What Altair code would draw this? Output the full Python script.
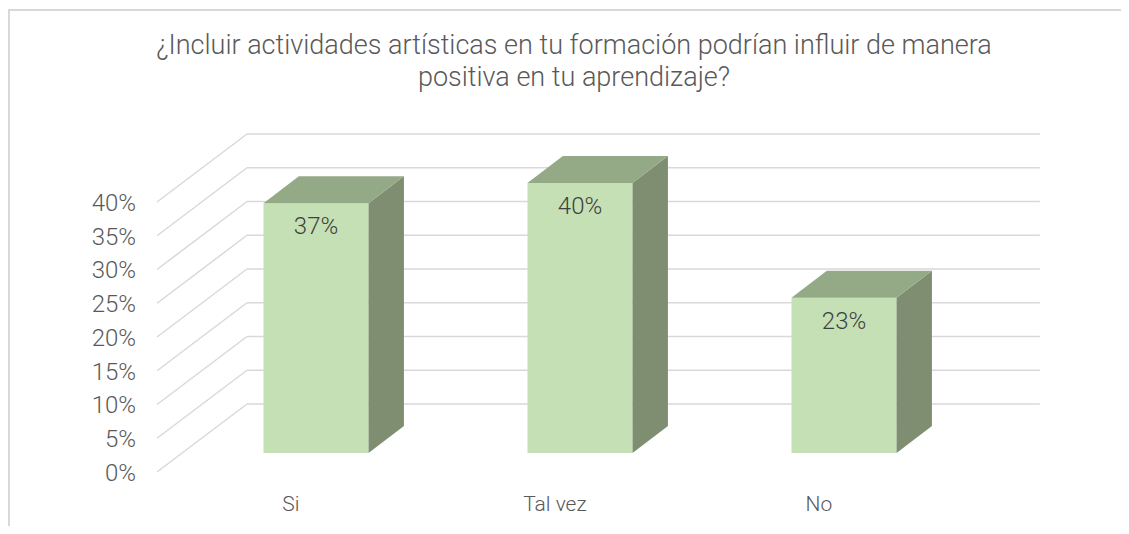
import altair as alt
import pandas as pd

# ---- data ----
categories = ["Si", "Tal vez", "No"]
values = [37, 40, 23]
tick_values = [0, 5, 10, 15, 20, 25, 30, 35, 40]
title_lines = [
    "¿Incluir actividades artísticas en tu formación podrían influir de manera",
    "positiva en tu aprendizaje?",
]

# ---- layout (pseudo-3D geometry) ----
W, H = 1113, 518
X_DOMAIN = [-1.1667, 3.0492]
Y_DOMAIN = [-10.81, 65.93]
HALF = 0.199          # half bar width (category units)
DX, DY = 0.134, 4.0   # bar depth offset
FRONT_LEFT, BACK_LEFT, BACK_RIGHT = -0.6023, -0.2614, 2.742
FRONT_OFF, BACK_OFF = -2.81, 7.26
LABEL_SHIFT = -0.095

FRONT_C, TOP_C, SIDE_C = "#C5E0B4", "#94A986", "#7F8E70"
GRID_C, TEXT_C = "#D9D9D9", "#595959"
FONT = "Roboto"

xs = alt.Scale(domain=X_DOMAIN, nice=False, zero=False)
ys = alt.Scale(domain=Y_DOMAIN, nice=False, zero=False)


def X(f):
    return alt.X(f, type="quantitative", scale=xs, axis=None)


def Y(f):
    return alt.Y(f, type="quantitative", scale=ys, axis=None, stack=None)


# back wall gridlines and floor diagonals
grid = pd.DataFrame({
    "t": tick_values,
    "xb": [BACK_LEFT] * len(tick_values),
    "xr": [BACK_RIGHT] * len(tick_values),
    "xf": [FRONT_LEFT] * len(tick_values),
    "yb": [t + BACK_OFF for t in tick_values],
    "yf": [t + FRONT_OFF for t in tick_values],
    "lab": [f"{t}%" for t in tick_values],
})

back_lines = alt.Chart(grid).mark_rule(color=GRID_C, strokeWidth=1.5).encode(
    x=X("xb"), x2="xr", y=Y("yb"))
diag_lines = alt.Chart(grid).mark_rule(color=GRID_C, strokeWidth=1.5).encode(
    x=X("xf"), x2="xb", y=Y("yf"), y2="yb")
y_labels = alt.Chart(grid).mark_text(
    align="right", baseline="middle", dx=-21, dy=2, font=FONT, fontSize=24,
    fontWeight=300, color=TEXT_C
).encode(x=X("xf"), y=Y("yf"), text="lab:N")

# bars
idx = list(range(len(categories)))
bars = pd.DataFrame({
    "cat": categories,
    "v": values,
    "x0": [i - HALF for i in idx],
    "x1": [i + HALF for i in idx],
    "xc": idx,
    "xl": [i + LABEL_SHIFT for i in idx],
    "zero": [0] * len(idx),
    "front": [FRONT_OFF] * len(idx),
    "lab": [f"{v}%" for v in values],
})

front = alt.Chart(bars).mark_rect(color=FRONT_C).encode(
    x=X("x0"), x2="x1", y=Y("zero"), y2="v")

side_rows, top_rows = [], []
for i, (c, v) in enumerate(zip(categories, values)):
    x0, x1 = i - HALF, i + HALF
    side_rows.append({"cat": c, "px": x1, "lo": 0, "hi": v})
    side_rows.append({"cat": c, "px": x1 + DX, "lo": DY, "hi": v + DY})
    top_rows.append({"cat": c, "px": x0, "lo": v, "hi": v})
    top_rows.append({"cat": c, "px": x0 + DX, "lo": v, "hi": v + DY})
    top_rows.append({"cat": c, "px": x1, "lo": v, "hi": v + DY})
    top_rows.append({"cat": c, "px": x1 + DX, "lo": v + DY, "hi": v + DY})

side = alt.Chart(pd.DataFrame(side_rows)).mark_area(color=SIDE_C, opacity=1).encode(
    x=X("px"), y=Y("hi"), y2="lo", detail="cat:N")

top = alt.Chart(pd.DataFrame(top_rows)).mark_area(color=TOP_C, opacity=1).encode(
    x=X("px"), y=Y("hi"), y2="lo", detail="cat:N")

val_labels = alt.Chart(bars).mark_text(
    baseline="middle", dy=24, font=FONT, fontSize=24, fontWeight=300, color="#404040"
).encode(x=X("xc"), y=Y("v"), text="lab:N")

cat_labels = alt.Chart(bars).mark_text(
    baseline="middle", dy=33, font=FONT, fontSize=21, fontWeight=300, color=TEXT_C
).encode(x=X("xl"), y=Y("front"), text="cat:N")

one = pd.DataFrame({"a": [0]})
title = alt.Chart(one).mark_text(
    text=title_lines, font=FONT, fontSize=27, fontWeight=300, color=TEXT_C,
    align="center", baseline="alphabetic", lineHeight=32
).encode(x=alt.value(566), y=alt.value(46))

border_top = alt.Chart(one).mark_rule(color=GRID_C, strokeWidth=2).encode(
    x=alt.value(0), x2=alt.value(W), y=alt.value(2))
border_left = alt.Chart(one).mark_rule(color=GRID_C, strokeWidth=2).encode(
    x=alt.value(1), y=alt.value(2), y2=alt.value(H))

chart = alt.layer(
    border_top, border_left, back_lines, diag_lines, y_labels,
    front, side, top, val_labels, cat_labels, title
).properties(
    width=W, height=H, autosize=alt.AutoSizeParams(type="none"),
    padding={"left": 0, "right": 0, "top": 0, "bottom": 0},
    background="white",
).configure_view(stroke=None)

chart.save("out.html", embed_options={"renderer": "svg", "actions": False})
